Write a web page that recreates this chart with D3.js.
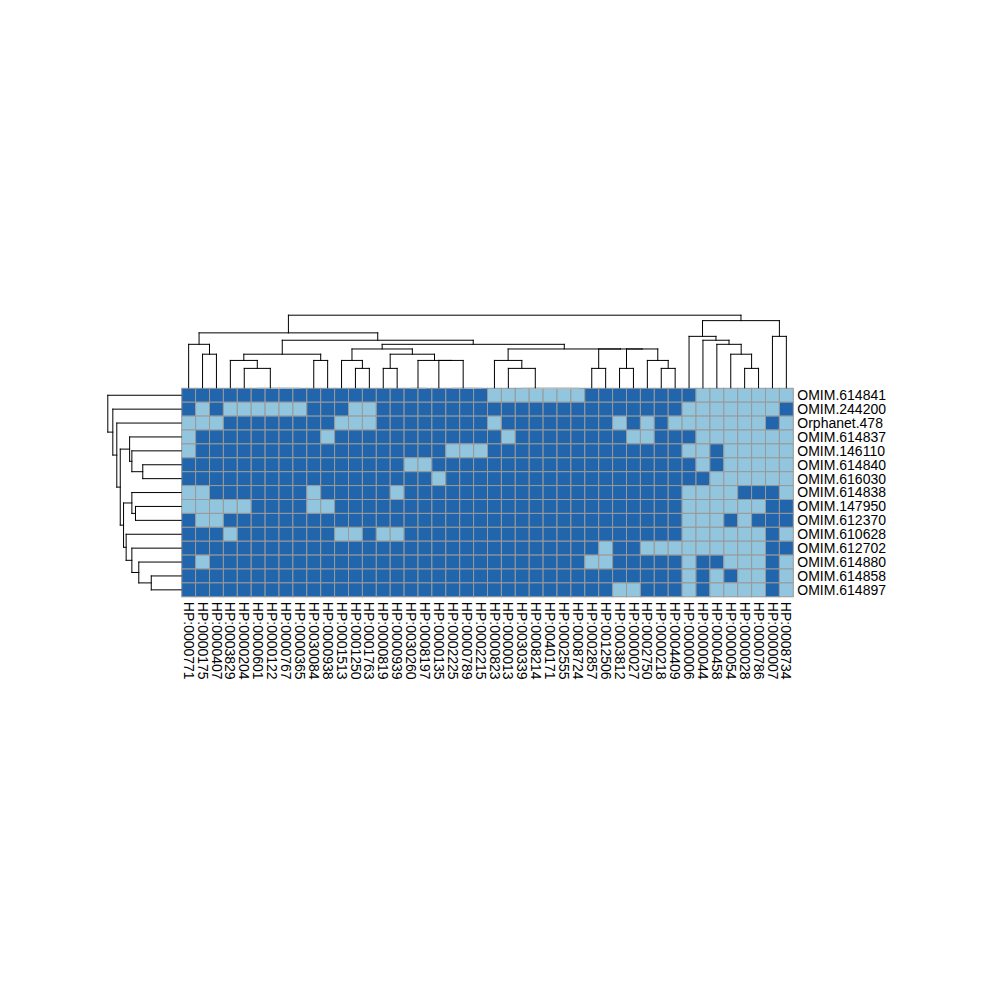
<!DOCTYPE html>
<html>
<head>
<meta charset="utf-8">
<script src="https://cdn.jsdelivr.net/npm/d3@7"></script>
<style>
body { margin: 0; background: #fff; }
text { font-family: "Liberation Sans", Arial, Helvetica, sans-serif; }
</style>
</head>
<body>
<div id="chart-area"></div>
<script>
/* Clustered heatmap: diseases x phenotypes */

var rowNames = ["OMIM.614841", "OMIM.244200", "Orphanet.478", "OMIM.614837", "OMIM.146110",
    "OMIM.614840", "OMIM.616030", "OMIM.614838", "OMIM.147950", "OMIM.612370",
    "OMIM.610628", "OMIM.612702", "OMIM.614880", "OMIM.614858", "OMIM.614897"];

var colNames = ["HP:0000771", "HP:0000175", "HP:0000407", "HP:0003829", "HP:0000204",
    "HP:0000601", "HP:0000122", "HP:0000767", "HP:0000365", "HP:0030084",
    "HP:0000938", "HP:0001513", "HP:0001250", "HP:0001763", "HP:0000819",
    "HP:0000939", "HP:0030260", "HP:0008197", "HP:0000135", "HP:0002225",
    "HP:0000789", "HP:0002215", "HP:0000823", "HP:0000013", "HP:0030339",
    "HP:0008214", "HP:0040171", "HP:0002555", "HP:0008724", "HP:0002857",
    "HP:0012506", "HP:0003812", "HP:0000027", "HP:0002750", "HP:0000218",
    "HP:0004409", "HP:0000006", "HP:0000044", "HP:0000458", "HP:0000054",
    "HP:0000028", "HP:0000786", "HP:0000007", "HP:0008734"];

// one string per row, one char per column: 1 = light cell, 0 = dark cell
var cellRows = [
    "00000000000000000000001111111000000001111111",
    "01011111100011000000000000000000000011111110",
    "11100000000111000000001000000001010111111101",
    "10000000001000000000000100000000110001111111",
    "10000000000000000001110000000000000011011111",
    "00000000000000001100000000000000000001011111",
    "00000000000000000010000000000000000000111111",
    "11000000010000010000000000000000000011110001",
    "11111000011000000000000000000000000011111100",
    "01100000000000000000000000000000000011101000",
    "00010000000110110000000000000000000011111101",
    "00000000000000000000000000000010011111111100",
    "01000000000000000000000000000110000010011101",
    "00000000000000000000000000000000000010101101",
    "00000000000000000000000000000001100010111101"
];

// dendrograms: leaf = index, node = [height, left, right]
var colTree = [3.74,
    [2.83,
        [2.24, 0, [1.73, 1, 2]],
        [2.45,
            [1.73,
                [1.41, 3, [1.0, 4, [0, 5, [0, 6, [0, 7, 8]]]]],
                [1.41, 9, 10]],
            [2.24,
                [2.0,
                    [1.41, 11, [1.0, 12, 13]],
                    [1.73, [1.0, 14, 15],
                        [1.41, [0, 16, 17], [1.41, 18, [0, 19, [0, 20, 21]]]]]],
                [2.0,
                    [1.41, 22, [1.0, 23, [0, 24, [0, 25, [0, 26, [0, 27, 28]]]]]],
                    [2.0, [1.0, 29, 30],
                        [2.0, [1.0, 31, 32], [1.41, 33, [1.0, 34, 35]]]]]]]],
    [3.46,
        [2.65, 36, [2.45, 37, [2.24, 38, [1.73, 39, [1.0, 40, 41]]]]],
        [2.65, 42, 43]]];

var rowTree = [4.24, 0,
    [3.95, 1,
        [3.72, 2,
            [3.52,
                [2.98, 3, [2.85, 4, [2.22, 5, 6]]],
                [3.33,
                    [2.85, 7, [2.64, 8, 9]],
                    [3.18, 10, [2.85, 11, [2.45, 12, [1.73, 13, 14]]]]]]]]];

var lightColor = "#92C5DE", darkColor = "#2166AC";

var hmLeft = 181.7, hmRight = 793.3, hmTop = 388.3, hmBottom = 596.8;

var svg = d3.select("#chart-area")
    .append("svg")
    .attr("width", 1000)
    .attr("height", 1000);

var x = d3.scaleBand().domain(d3.range(colNames.length)).range([hmLeft, hmRight]);
var y = d3.scaleBand().domain(d3.range(rowNames.length)).range([hmTop, hmBottom]);

var colH = d3.scaleLinear().domain([0, colTree[0]]).range([hmTop, 315.7]);
var rowH = d3.scaleLinear().domain([0, rowTree[0]]).range([hmLeft, 108.3]);

var cells = [];
cellRows.forEach(function(s, r) {
    s.split("").forEach(function(v, c) {
        cells.push({ r: r, c: c, v: +v });
    });
});

svg.append("g").selectAll("rect")
    .data(cells)
    .enter()
    .append("rect")
    .attr("x", function(d) { return x(d.c); })
    .attr("y", function(d) { return y(d.r); })
    .attr("width", x.bandwidth())
    .attr("height", y.bandwidth())
    .attr("fill", function(d) { return d.v ? lightColor : darkColor; })
    .attr("stroke", "#999999")
    .attr("stroke-width", 1);

// walk a tree, collecting segments in (position, height) space
function walk(node, center, segs) {
    if (!Array.isArray(node)) return { p: center(node), h: 0 };
    var a = walk(node[1], center, segs);
    var b = walk(node[2], center, segs);
    var h = node[0];
    segs.push([a.p, a.h, a.p, h]);
    segs.push([b.p, b.h, b.p, h]);
    segs.push([a.p, h, b.p, h]);
    return { p: (a.p + b.p) / 2, h: h };
}

// zero-height merges sit on the heatmap edge and show only faintly
function segColor(d) {
    return (d[1] === 0 && d[3] === 0) ? "#d0d0d0" : "#000";
}

var colSegs = [];
walk(colTree, function(i) { return x(i) + x.bandwidth() / 2; }, colSegs);
svg.append("g").selectAll("line")
    .data(colSegs)
    .enter()
    .append("line")
    .attr("x1", function(d) { return d[0]; })
    .attr("y1", function(d) { return colH(d[1]) - 0.5; })
    .attr("x2", function(d) { return d[2]; })
    .attr("y2", function(d) { return colH(d[3]) - 0.5; })
    .attr("stroke", segColor)
    .attr("stroke-width", 1)
    .attr("stroke-linecap", "square");

var rowSegs = [];
walk(rowTree, function(i) { return y(i) + y.bandwidth() / 2; }, rowSegs);
svg.append("g").selectAll("line")
    .data(rowSegs)
    .enter()
    .append("line")
    .attr("x1", function(d) { return rowH(d[1]) - 0.5; })
    .attr("y1", function(d) { return d[0]; })
    .attr("x2", function(d) { return rowH(d[3]) - 0.5; })
    .attr("y2", function(d) { return d[2]; })
    .attr("stroke", segColor)
    .attr("stroke-width", 1)
    .attr("stroke-linecap", "square");

// labels
svg.append("g").selectAll("text")
    .data(rowNames)
    .enter()
    .append("text")
    .attr("x", hmRight + 4)
    .attr("y", function(d, i) { return y(i) + y.bandwidth() / 2; })
    .attr("dy", "0.35em")
    .attr("font-size", 14)
    .attr("fill", "#000")
    .text(function(d) { return d; });

svg.append("g").selectAll("text")
    .data(colNames)
    .enter()
    .append("text")
    .attr("transform", function(d, i) {
        return "translate(" + (x(i) + x.bandwidth() / 2) + "," + (hmBottom + 5) + ") rotate(90)";
    })
    .attr("dy", "0.35em")
    .attr("font-size", 14)
    .attr("fill", "#000")
    .text(function(d) { return d; });
</script>
</body>
</html>
